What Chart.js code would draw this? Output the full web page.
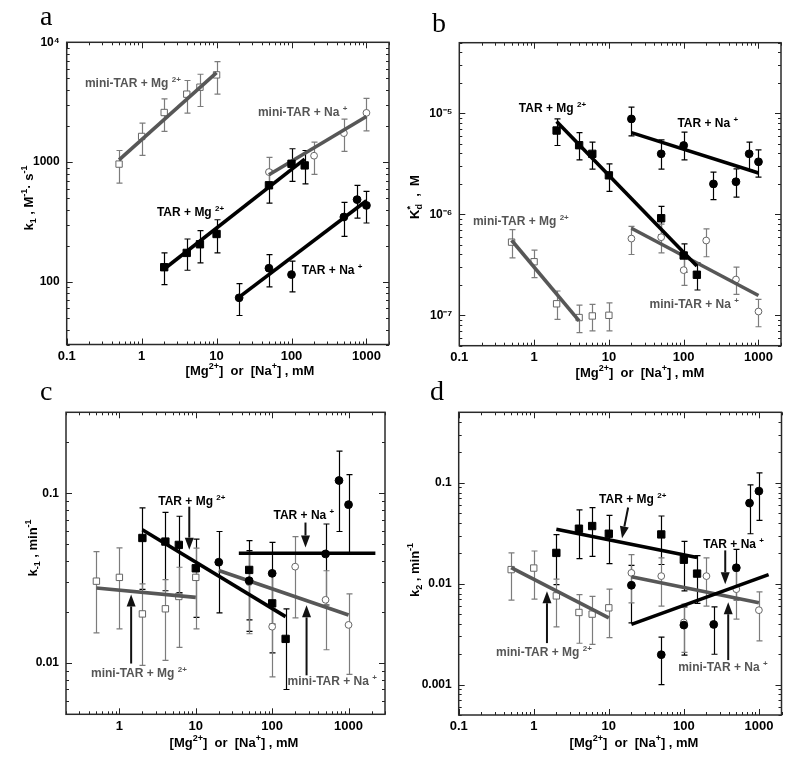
<!DOCTYPE html>
<html><head><meta charset="utf-8">
<script src="https://cdn.jsdelivr.net/npm/chart.js@4.4.1/dist/chart.umd.min.js"></script>
<style>
html,body{margin:0;padding:0;background:#fff;}
#wrap{position:relative;width:800px;height:757px;background:#fff;}
canvas{position:absolute;left:0;top:0;}
</style></head><body>
<div id="wrap">
<canvas id="ca" width="800" height="757"></canvas>
<canvas id="cb" width="800" height="757"></canvas>
<canvas id="cc" width="800" height="757"></canvas>
<canvas id="cd" width="800" height="757"></canvas>
</div>
<script>
// ---------- tick values / labels ----------
const xTicksAB = [0.1, 1, 10, 100, 1000];
const xLabelsAB = ['0.1', '1', '10', '100', '1000'];
const xTicksC = [1, 10, 100, 1000];
const xLabelsC = ['1', '10', '100', '1000'];
const yTicksA = [100, 1000, 10000];
const yLabelsA = ['100', '1000', '10\u2074'];
const yTicksB = [1e-7, 1e-6, 1e-5];
const yLabelsB = ['10\u207B\u2077', '10\u207B\u2076', '10\u207B\u2075'];
const yTicksC = [0.01, 0.1];
const yLabelsC = ['0.01', '0.1'];
const yTicksD = [0.001, 0.01, 0.1];
const yLabelsD = ['0.001', '0.01', '0.1'];

// ---------- panel a : k1 ----------
const aMiniMgX = [0.5, 1, 2, 4, 6, 10];
const aMiniMgY = [962, 1637, 2594, 3690, 4217, 5346];
const aMiniMgHi = [1250, 2113, 3373, 4797, 5410, 6900];
const aMiniMgLo = [668, 1136, 1803, 2560, 2910, 3690];
const aMiniMgFitX = [0.5, 10];
const aMiniMgFitY = [1045, 5585];

const aMiniNaX = [50, 200, 500, 1000];
const aMiniNaY = [826, 1130, 1745, 2576];
const aMiniNaHi = [1094, 1468, 2280, 3398];
const aMiniNaLo = [627, 789, 1228, 1824];
const aMiniNaFitX = [50, 1000];
const aMiniNaFitY = [784, 2404];

const aTarMgX = [2, 4, 6, 10, 50, 100, 150];
const aTarMgY = [132.5, 174.5, 206, 251, 640, 968, 938];
const aTarMgHi = [174.5, 228, 268, 330, 853, 1292, 1250];
const aTarMgLo = [95, 125, 144, 174.5, 455, 690, 659];
const aTarMgFitX = [2, 150];
const aTarMgFitY = [128, 1059];

const aTarNaX = [20, 50, 100, 500, 750, 1000];
const aTarNaY = [73.6, 130, 115, 348, 486, 435];
const aTarNaHi = [96.8, 169, 149, 461, 640, 570];
const aTarNaLo = [52.4, 90.8, 82.6, 240, 341, 310];
const aTarNaFitX = [20, 1000];
const aTarNaFitY = [74.5, 476];

// ---------- panel b : K*d ----------
const bTarMgX = [2, 4, 6, 10, 50, 100, 150];
const bTarMgY = [6.75e-6, 4.83e-6, 3.97e-6, 2.43e-6, 9.14e-7, 3.91e-7, 2.52e-7];
const bTarMgHi = [8.8e-6, 6.44e-6, 5.18e-6, 3.16e-6, 1.2e-6, 5.1e-7, 3.31e-7];
const bTarMgLo = [4.8e-6, 3.46e-6, 2.8e-6, 1.69e-6, 6.3e-7, 2.68e-7, 1.78e-7];
const bTarMgFitX = [2, 150];
const bTarMgFitY = [8.28e-6, 3.07e-7];

const bTarNaX = [20, 50, 100, 250, 500, 750, 1000];
const bTarNaY = [8.8e-6, 3.97e-6, 4.8e-6, 2.0e-6, 2.1e-6, 3.97e-6, 3.31e-6];
const bTarNaHi = [1.15e-5, 5.46e-6, 6.5e-6, 2.62e-6, 2.82e-6, 5.18e-6, 4.35e-6];
const bTarNaLo = [5.97e-6, 2.8e-6, 3.46e-6, 1.4e-6, 1.48e-6, 2.76e-6, 2.33e-6];
const bTarNaFitX = [20, 1000];
const bTarNaFitY = [6.44e-6, 2.56e-6];

const bMiniMgX = [0.5, 1, 2, 4, 6, 10];
const bMiniMgY = [5.3e-7, 3.39e-7, 1.3e-7, 9.5e-8, 9.85e-8, 1.0e-7];
const bMiniMgHi = [7.06e-7, 4.42e-7, 1.74e-7, 1.26e-7, 1.28e-7, 1.33e-7];
const bMiniMgLo = [3.7e-7, 2.36e-7, 9.1e-8, 6.75e-8, 7.0e-8, 7.0e-8];
const bMiniMgFitX = [0.5, 4];
const bMiniMgFitY = [5.53e-7, 8.8e-8];

const bMiniNaX = [20, 50, 100, 200, 500, 1000];
const bMiniNaY = [5.75e-7, 5.93e-7, 2.8e-7, 5.5e-7, 2.26e-7, 1.09e-7];
const bMiniNaHi = [7.6e-7, 8.0e-7, 3.77e-7, 7.16e-7, 3.0e-7, 1.44e-7];
const bMiniNaLo = [4.0e-7, 4.15e-7, 1.98e-7, 3.8e-7, 1.61e-7, 7.7e-8];
const bMiniNaFitX = [20, 1000];
const bMiniNaFitY = [7.28e-7, 1.57e-7];

// ---------- panel c : k-1 ----------
const cMiniMgX = [0.5, 1, 2, 4, 6, 10];
const cMiniMgY = [0.0304, 0.032, 0.0195, 0.0209, 0.0247, 0.032];
const cMiniMgHi = [0.0454, 0.0477, 0.0293, 0.031, 0.0367, 0.0476];
const cMiniMgLo = [0.0151, 0.0159, 0.0097, 0.0104, 0.0124, 0.0159];
const cMiniMgFitX = [0.5, 10];
const cMiniMgFitY = [0.0277, 0.0244];

const cTarMgX = [2, 4, 6, 10, 50, 100, 150];
const cTarMgY = [0.0546, 0.052, 0.0497, 0.0362, 0.0354, 0.0225, 0.0139];
const cTarMgHi = [0.082, 0.0773, 0.0733, 0.0538, 0.0527, 0.0335, 0.0209];
const cTarMgLo = [0.0272, 0.0267, 0.026, 0.0186, 0.018, 0.0115, 0.007];
const cTarMgFitX = [2, 150];
const cTarMgFitY = [0.0611, 0.0188];

const cTarNaX = [20, 50, 100, 500, 750, 1000];
const cTarNaY = [0.0393, 0.0306, 0.0338, 0.044, 0.119, 0.0858];
const cTarNaHi = [0.0596, 0.046, 0.0515, 0.066, 0.177, 0.129];
const cTarNaLo = [0.0198, 0.0154, 0.017, 0.022, 0.0596, 0.044];
const cTarNaFitX = [36.6, 2244];
const cTarNaFitY = [0.0444, 0.0444];

const cMiniNaX = [50, 100, 200, 500, 1000];
const cMiniNaY = [0.030, 0.0164, 0.037, 0.0236, 0.0168];
const cMiniNaHi = [0.045, 0.035, 0.0556, 0.035, 0.0256];
const cMiniNaLo = [0.0149, 0.0083, 0.0185, 0.012, 0.0086];
const cMiniNaFitX = [20, 1000];
const cMiniNaFitY = [0.0351, 0.0192];

// ---------- panel d : k2 ----------
const dTarMgX = [2, 4, 6, 10, 50, 100, 150];
const dTarMgY = [0.0202, 0.0351, 0.0373, 0.0313, 0.0308, 0.0173, 0.0126];
const dTarMgHi = [0.0306, 0.054, 0.0567, 0.0475, 0.0469, 0.0263, 0.019];
const dTarMgLo = [0.0098, 0.0177, 0.0187, 0.0158, 0.0155, 0.0085, 0.0064];
const dTarMgFitX = [2, 150];
const dTarMgFitY = [0.0346, 0.0182];

const dTarNaX = [20, 50, 100, 250, 500, 750, 1000];
const dTarNaY = [0.00966, 0.00198, 0.00389, 0.00395, 0.0144, 0.063, 0.0828];
const dTarNaHi = [0.0152, 0.00296, 0.0059, 0.0059, 0.0219, 0.0955, 0.1257];
const dTarNaLo = [0.0041, 0.001, 0.00196, 0.002, 0.0069, 0.0313, 0.0425];
const dTarNaFitX = [20, 1346];
const dTarNaFitY = [0.00395, 0.0123];

const dMiniMgX = [0.5, 1, 2, 4, 6, 10];
const dMiniMgY = [0.0138, 0.0143, 0.00758, 0.00519, 0.005, 0.00577];
const dMiniMgHi = [0.0202, 0.0211, 0.0111, 0.00781, 0.0075, 0.00883];
const dMiniMgLo = [0.00687, 0.00703, 0.00374, 0.00257, 0.0025, 0.00292];
const dMiniMgFitX = [0.5, 10];
const dMiniMgFitY = [0.01445, 0.00459];

const dMiniNaX = [20, 50, 100, 200, 500, 1000];
const dMiniNaY = [0.0128, 0.0119, 0.00413, 0.0119, 0.00883, 0.00547];
const dMiniNaHi = [0.0194, 0.018, 0.00627, 0.018, 0.0134, 0.0083];
const dMiniNaLo = [0.00646, 0.006, 0.00209, 0.006, 0.00446, 0.00272];
const dMiniNaFitX = [20, 1000];
const dMiniNaFitY = [0.0117, 0.00647];

// ---------- styling helpers ----------
const FONT = "'Liberation Sans', Arial, sans-serif";
const SERIF = "'Liberation Serif', 'Times New Roman', serif";
const GRAY_LINE = '#575757', GRAY_MK = '#666666', GRAY_ERR = '#7c7c7c', GRAY_TXT = '#555555';

function pts(xs, ys) { return xs.map((x, i) => ({ x: x, y: ys[i] })); }

const KINDS = {
  sqB: { ps: 'rect', r: 5.2, bg: '#000', bc: '#000', bw: 1, ec: '#000', order: 0 },
  ciB: { ps: 'circle', r: 3.9, bg: '#000', bc: '#000', bw: 1, ec: '#000', order: 0 },
  sqO: { ps: 'rect', r: 4.5, bg: '#fff', bc: GRAY_MK, bw: 1, ec: GRAY_ERR, order: 2 },
  ciO: { ps: 'circle', r: 3.4, bg: '#fff', bc: GRAY_MK, bw: 1, ec: GRAY_ERR, order: 2 }
};
function markerDS(xs, ys, lo, hi, kind) {
  const k = KINDS[kind];
  return { type: 'scatter', data: pts(xs, ys), errLo: lo, errHi: hi, errColor: k.ec,
    pointStyle: k.ps, pointRadius: k.r, pointHoverRadius: k.r, backgroundColor: k.bg,
    borderColor: k.bc, borderWidth: k.bw, showLine: false, order: k.order };
}
function fitDS(xs, ys, color) {
  return { type: 'line', data: pts(xs, ys), borderColor: color, borderWidth: 3.6,
    pointRadius: 0, pointHoverRadius: 0, fill: false, tension: 0, order: 1 };
}

// rich text: segs = [[text, 'n'|'sup'|'sub', noAdvance]]
function fsFor(kind, size) { return kind === 'n' ? size : Math.round(size * 0.68); }
function richWidth(ctx, segs, size, weight) {
  let w = 0;
  segs.forEach(s => { ctx.font = weight + ' ' + fsFor(s[1], size) + 'px ' + FONT; if (!s[2]) w += ctx.measureText(s[0]).width; });
  return w;
}
function drawRich(ctx, x, y, segs, size, weight, color, align) {
  const w = richWidth(ctx, segs, size, weight);
  let cx = align === 'center' ? x - w / 2 : x;
  ctx.fillStyle = color; ctx.textAlign = 'left'; ctx.textBaseline = 'alphabetic';
  const base = y + size * 0.36;
  segs.forEach(s => {
    ctx.font = weight + ' ' + fsFor(s[1], size) + 'px ' + FONT;
    let dy = 0;
    if (s[1] === 'sup') dy = -size * 0.42;
    if (s[1] === 'sub') dy = size * 0.28;
    ctx.fillText(s[0], cx, base + dy);
    if (!s[2]) cx += ctx.measureText(s[0]).width;
  });
}

const figPlugin = {
  id: 'fig',
  beforeDatasetsDraw(chart) {
    const ctx = chart.ctx, xs = chart.scales.x, ys = chart.scales.y, a = chart.chartArea;
    ctx.save();
    ctx.beginPath(); ctx.rect(a.left, a.top, a.right - a.left, a.bottom - a.top); ctx.clip();
    chart.data.datasets.forEach(ds => {
      if (!ds.errLo) return;
      ctx.strokeStyle = ds.errColor; ctx.lineWidth = 1.2;
      ds.data.forEach((p, i) => {
        const px = Math.round(xs.getPixelForValue(p.x)) + 0.5;
        const y1 = ys.getPixelForValue(ds.errHi[i]), y2 = ys.getPixelForValue(ds.errLo[i]);
        ctx.beginPath();
        ctx.moveTo(px, y1); ctx.lineTo(px, y2);
        ctx.moveTo(px - 3, y1); ctx.lineTo(px + 3, y1);
        ctx.moveTo(px - 3, y2); ctx.lineTo(px + 3, y2);
        ctx.stroke();
      });
    });
    ctx.restore();
  },
  afterDraw(chart) {
    const o = chart.options.plugins.fig;
    const ctx = chart.ctx, xs = chart.scales.x, ys = chart.scales.y, a = chart.chartArea;
    ctx.save();
    // ticks (inward, all sides)
    ctx.strokeStyle = '#222'; ctx.lineWidth = 1;
    const logTicks = (min, max) => {
      const out = [];
      for (let e = Math.floor(Math.log10(min)) - 1; e <= Math.ceil(Math.log10(max)); e++) {
        for (let k = 1; k < 10; k++) {
          const v = k * Math.pow(10, e);
          if (v >= min * 0.9999 && v <= max * 1.0001) out.push([v, k === 1]);
        }
      }
      return out;
    };
    ctx.beginPath();
    logTicks(xs.min, xs.max).forEach(t => {
      const px = Math.round(xs.getPixelForValue(t[0])) + 0.5, L = t[1] ? 6 : 3;
      ctx.moveTo(px, a.bottom); ctx.lineTo(px, a.bottom - L);
      ctx.moveTo(px, a.top); ctx.lineTo(px, a.top + L);
    });
    logTicks(ys.min, ys.max).forEach(t => {
      const py = Math.round(ys.getPixelForValue(t[0])) + 0.5, L = t[1] ? 6 : 3;
      ctx.moveTo(a.left, py); ctx.lineTo(a.left + L, py);
      ctx.moveTo(a.right, py); ctx.lineTo(a.right - L, py);
    });
    ctx.stroke();
    // frame
    ctx.lineWidth = 1.5; ctx.strokeStyle = '#2a2a2a';
    ctx.strokeRect(a.left, a.top, a.right - a.left, a.bottom - a.top);
    // arrows
    (o.arrows || []).forEach(ar => {
      const x1 = xs.getPixelForValue(ar[0]), y1 = ys.getPixelForValue(ar[1]);
      const x2 = xs.getPixelForValue(ar[2]), y2 = ys.getPixelForValue(ar[3]);
      const ang = Math.atan2(y2 - y1, x2 - x1), HL = 12, HW = 4.5;
      const bx = x2 - HL * Math.cos(ang), by = y2 - HL * Math.sin(ang);
      ctx.strokeStyle = '#111'; ctx.fillStyle = '#111'; ctx.lineWidth = 2;
      ctx.beginPath(); ctx.moveTo(x1, y1); ctx.lineTo(bx, by); ctx.stroke();
      ctx.beginPath();
      ctx.moveTo(x2, y2);
      ctx.lineTo(bx + HW * Math.sin(ang), by - HW * Math.cos(ang));
      ctx.lineTo(bx - HW * Math.sin(ang), by + HW * Math.cos(ang));
      ctx.closePath(); ctx.fill();
    });
    // notes
    (o.notes || []).forEach(n => {
      drawRich(ctx, xs.getPixelForValue(n.x), ys.getPixelForValue(n.y), n.segs, 12, 'bold', n.color, 'left');
    });
    // axis titles
    drawRich(ctx, o.xTitle.x, o.xTitle.y, o.xTitle.segs, 13, 'bold', '#000', 'center');
    ctx.save();
    ctx.translate(o.yTitle.x, o.yTitle.y); ctx.rotate(-Math.PI / 2);
    drawRich(ctx, 0, 0, o.yTitle.segs, 13, 'bold', '#000', 'center');
    ctx.restore();
    // panel letter
    ctx.font = '28px ' + SERIF; ctx.fillStyle = '#000'; ctx.textAlign = 'left'; ctx.textBaseline = 'alphabetic';
    ctx.fillText(o.letter.t, o.letter.x, o.letter.y);
    ctx.restore();
  }
};

const X_TITLE = [['[Mg', 'n'], ['2+', 'sup'], [']  or  [Na', 'n'], ['+', 'sup'], ['] , mM', 'n']];
const TAR_MG = [['TAR + Mg ', 'n'], ['2+', 'sup']];
const TAR_NA = [['TAR + Na ', 'n'], ['+', 'sup']];
const MINI_MG = [['mini-TAR + Mg ', 'n'], ['2+', 'sup']];
const MINI_NA = [['mini-TAR + Na ', 'n'], ['+', 'sup']];

function makePanel(id, area, xr, yr, xT, xL, yT, yL, datasets, fig) {
  const YW = 50, XH = 22;
  new Chart(document.getElementById(id), {
    type: 'scatter',
    data: { datasets: datasets },
    options: {
      responsive: false, animation: false, devicePixelRatio: 1,
      layout: { padding: { left: area.l - YW, top: area.t, right: 800 - area.r, bottom: 757 - area.b - XH } },
      plugins: { legend: { display: false }, tooltip: { enabled: false }, fig: fig },
      scales: {
        x: {
          type: 'logarithmic', position: 'bottom', min: xr[0], max: xr[1],
          grid: { display: false, drawTicks: false }, border: { display: false },
          ticks: { autoSkip: false, maxRotation: 0, padding: 4, color: '#000',
            font: { family: FONT, size: 13, weight: 'bold' },
            callback: (v, i) => xL[i] },
          afterBuildTicks: s => { s.ticks = xT.map(v => ({ value: v })); },
          afterFit: s => { s.height = XH; }
        },
        y: {
          type: 'logarithmic', position: 'left', min: yr[0], max: yr[1],
          grid: { display: false, drawTicks: false }, border: { display: false },
          ticks: { autoSkip: false, padding: 7, color: '#000',
            font: { family: FONT, size: 12, weight: 'bold' },
            callback: (v, i) => yL[i] },
          afterBuildTicks: s => { s.ticks = yT.map(v => ({ value: v })); },
          afterFit: s => { s.width = YW; }
        }
      }
    },
    plugins: [figPlugin]
  });
}

// ---- panel a ----
makePanel('ca', { l: 66.7, t: 42.3, r: 389, b: 344.5 }, [0.1, 2000], [30, 10000],
  xTicksAB, xLabelsAB, yTicksA, yLabelsA, [
    markerDS(aTarMgX, aTarMgY, aTarMgLo, aTarMgHi, 'sqB'),
    markerDS(aTarNaX, aTarNaY, aTarNaLo, aTarNaHi, 'ciB'),
    fitDS(aTarMgFitX, aTarMgFitY, '#000'),
    fitDS(aTarNaFitX, aTarNaFitY, '#000'),
    fitDS(aMiniMgFitX, aMiniMgFitY, GRAY_LINE),
    fitDS(aMiniNaFitX, aMiniNaFitY, GRAY_LINE),
    markerDS(aMiniMgX, aMiniMgY, aMiniMgLo, aMiniMgHi, 'sqO'),
    markerDS(aMiniNaX, aMiniNaY, aMiniNaLo, aMiniNaHi, 'ciO')
  ], {
    notes: [
      { x: 0.175, y: 4580, segs: MINI_MG, color: GRAY_TXT },
      { x: 35.6, y: 2625, segs: MINI_NA, color: GRAY_TXT },
      { x: 1.6, y: 385, segs: TAR_MG, color: '#000' },
      { x: 137, y: 126.6, segs: TAR_NA, color: '#000' }
    ],
    arrows: [],
    xTitle: { x: 250, y: 370, segs: X_TITLE },
    yTitle: { x: 28, y: 198, segs: [['k', 'n'], ['1', 'sub'], [' , M', 'n'], ['-1', 'sup'], ['\u00B7 s', 'n'], ['-1', 'sup']] },
    letter: { t: 'a', x: 40, y: 25 }
  });

// ---- panel b ----
makePanel('cb', { l: 459.3, t: 42.7, r: 781, b: 345.7 }, [0.1, 2000], [5e-8, 5e-5],
  xTicksAB, xLabelsAB, yTicksB, yLabelsB, [
    markerDS(bTarMgX, bTarMgY, bTarMgLo, bTarMgHi, 'sqB'),
    markerDS(bTarNaX, bTarNaY, bTarNaLo, bTarNaHi, 'ciB'),
    fitDS(bTarMgFitX, bTarMgFitY, '#000'),
    fitDS(bTarNaFitX, bTarNaFitY, '#000'),
    fitDS(bMiniMgFitX, bMiniMgFitY, GRAY_LINE),
    fitDS(bMiniNaFitX, bMiniNaFitY, GRAY_LINE),
    markerDS(bMiniMgX, bMiniMgY, bMiniMgLo, bMiniMgHi, 'sqO'),
    markerDS(bMiniNaX, bMiniNaY, bMiniNaLo, bMiniNaHi, 'ciO')
  ], {
    notes: [
      { x: 0.625, y: 1.127e-5, segs: TAR_MG, color: '#000' },
      { x: 82.4, y: 8.02e-6, segs: TAR_NA, color: '#000' },
      { x: 0.152, y: 8.69e-7, segs: MINI_MG, color: GRAY_TXT },
      { x: 34.9, y: 1.29e-7, segs: MINI_NA, color: GRAY_TXT }
    ],
    arrows: [],
    xTitle: { x: 640, y: 372, segs: X_TITLE },
    yTitle: { x: 414, y: 197, segs: [['K', 'n'], ['*', 'sup', true], ['d', 'sub'], ['  ,  M', 'n']] },
    letter: { t: 'b', x: 432, y: 32 }
  });

// ---- panel c ----
makePanel('cc', { l: 66, t: 412.3, r: 385, b: 714.3 }, [0.2, 3000], [0.005, 0.3],
  xTicksC, xLabelsC, yTicksC, yLabelsC, [
    markerDS(cTarMgX, cTarMgY, cTarMgLo, cTarMgHi, 'sqB'),
    markerDS(cTarNaX, cTarNaY, cTarNaLo, cTarNaHi, 'ciB'),
    fitDS(cTarMgFitX, cTarMgFitY, '#000'),
    fitDS(cTarNaFitX, cTarNaFitY, '#000'),
    fitDS(cMiniMgFitX, cMiniMgFitY, GRAY_LINE),
    fitDS(cMiniNaFitX, cMiniNaFitY, GRAY_LINE),
    markerDS(cMiniMgX, cMiniMgY, cMiniMgLo, cMiniMgHi, 'sqO'),
    markerDS(cMiniNaX, cMiniNaY, cMiniNaLo, cMiniNaHi, 'ciO')
  ], {
    notes: [
      { x: 3.22, y: 0.0906, segs: TAR_MG, color: '#000' },
      { x: 104, y: 0.075, segs: TAR_NA, color: '#000' },
      { x: 0.425, y: 0.00881, segs: MINI_MG, color: GRAY_TXT },
      { x: 158.6, y: 0.0079, segs: MINI_NA, color: GRAY_TXT }
    ],
    arrows: [
      [8.22, 0.0835, 8.22, 0.0466],
      [273, 0.0673, 273, 0.048],
      [1.425, 0.00995, 1.425, 0.0254],
      [282, 0.00848, 282, 0.0219]
    ],
    xTitle: { x: 234, y: 742, segs: X_TITLE },
    yTitle: { x: 32, y: 548, segs: [['k', 'n'], ['-1', 'sub'], [' , min', 'n'], ['-1', 'sup']] },
    letter: { t: 'c', x: 40, y: 400 }
  });

// ---- panel d ----
makePanel('cd', { l: 458.7, t: 412.3, r: 781.5, b: 715 }, [0.1, 2000], [5e-4, 0.5],
  xTicksAB, xLabelsAB, yTicksD, yLabelsD, [
    markerDS(dTarMgX, dTarMgY, dTarMgLo, dTarMgHi, 'sqB'),
    markerDS(dTarNaX, dTarNaY, dTarNaLo, dTarNaHi, 'ciB'),
    fitDS(dTarMgFitX, dTarMgFitY, '#000'),
    fitDS(dTarNaFitX, dTarNaFitY, '#000'),
    fitDS(dMiniMgFitX, dMiniMgFitY, GRAY_LINE),
    fitDS(dMiniNaFitX, dMiniNaFitY, GRAY_LINE),
    markerDS(dMiniMgX, dMiniMgY, dMiniMgLo, dMiniMgHi, 'sqO'),
    markerDS(dMiniNaX, dMiniNaY, dMiniNaLo, dMiniNaHi, 'ciO')
  ], {
    notes: [
      { x: 7.43, y: 0.07, segs: TAR_MG, color: '#000' },
      { x: 181, y: 0.0251, segs: TAR_NA, color: '#000' },
      { x: 0.314, y: 0.0021, segs: MINI_MG, color: GRAY_TXT },
      { x: 84, y: 0.0015, segs: MINI_NA, color: GRAY_TXT }
    ],
    arrows: [
      [18.1, 0.057, 15.0, 0.0282],
      [356, 0.0214, 356, 0.00989],
      [1.5, 0.00258, 1.5, 0.00843],
      [390, 0.00175, 390, 0.00656]
    ],
    xTitle: { x: 634, y: 742, segs: X_TITLE },
    yTitle: { x: 414, y: 570, segs: [['k', 'n'], ['2', 'sub'], [' , min', 'n'], ['-1', 'sup']] },
    letter: { t: 'd', x: 430, y: 400 }
  });
</script>
</body></html>
